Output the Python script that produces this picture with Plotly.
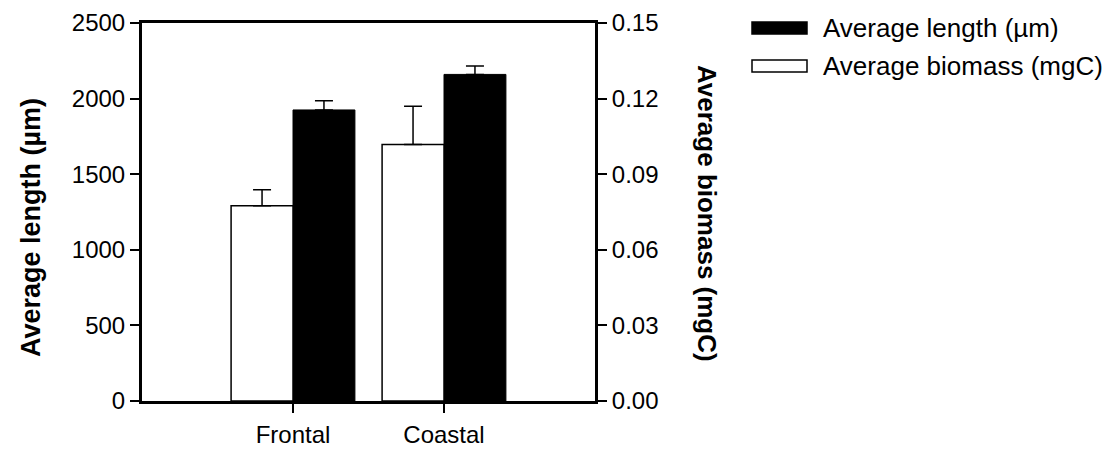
import plotly.graph_objects as go

categories = ["Frontal", "Coastal"]
length_vals = [1925, 2160]
length_err = [60, 55]
biomass_vals = [0.0775, 0.1018]
biomass_err = [0.0063, 0.0152]
left_ticks = [0, 500, 1000, 1500, 2000, 2500]
right_ticks = [0.0, 0.03, 0.06, 0.09, 0.12, 0.15]
right_tick_text = ["0.00", "0.03", "0.06", "0.09", "0.12", "0.15"]

FONT = "Liberation Sans, Arial, sans-serif"
PL, PR, PT, PB = 142, 595, 23, 401  # plot area edges in pixels


def px_x(x):
    return (x - PL) / (PR - PL)


def px_y(y):
    return (PB - y) / (PB - PT)


fig = go.Figure()
fig.add_trace(go.Bar(
    x=categories, y=biomass_vals, yaxis="y2", offsetgroup="1",
    name="Average biomass (mgC)",
    marker=dict(color="white", line=dict(color="black", width=1.5)),
    error_y=dict(type="data", array=biomass_err, arrayminus=[0, 0], symmetric=False,
                 color="black", thickness=1.5, width=9),
    showlegend=False,
))
fig.add_trace(go.Bar(
    x=categories, y=length_vals, yaxis="y", offsetgroup="2",
    name="Average length (µm)",
    marker=dict(color="black", line=dict(color="black", width=1)),
    error_y=dict(type="data", array=length_err, arrayminus=[0, 0], symmetric=False,
                 color="black", thickness=1.5, width=9),
    showlegend=False,
))

fig.update_layout(
    width=1119, height=451,
    margin=dict(l=PL, r=1119 - PR, t=PT, b=451 - PB),
    paper_bgcolor="white", plot_bgcolor="white",
    barmode="group", bargap=0.18, bargroupgap=0,
    font=dict(family=FONT, size=24, color="black"),
    xaxis=dict(
        range=[-1, 2], showline=True, linecolor="black", linewidth=3, mirror=True,
        ticks="outside", ticklen=9, tickwidth=2, tickcolor="black",
        tickfont=dict(size=24), ticklabelstandoff=1, automargin=False,
        showgrid=False, zeroline=False,
    ),
    yaxis=dict(
        range=[0, 2500], tickvals=left_ticks, showline=True, linecolor="black", linewidth=3,
        ticks="outside", ticklen=9, tickwidth=2, tickcolor="black",
        tickfont=dict(size=24), showgrid=False, zeroline=False, automargin=False,
    ),
    yaxis2=dict(
        range=[0, 0.15], tickvals=right_ticks, ticktext=right_tick_text,
        overlaying="y", side="right", anchor="x", automargin=False,
        showline=True, linecolor="black", linewidth=3,
        ticks="outside", ticklen=9, tickwidth=2, tickcolor="black",
        tickfont=dict(size=24), showgrid=False, zeroline=False,
    ),
)

fig.add_annotation(
    text="<b>Average length (µm)</b>", textangle=-90,
    xref="paper", yref="paper", x=px_x(31), y=px_y(228),
    xanchor="center", yanchor="middle", showarrow=False, font=dict(size=27),
)
fig.add_annotation(
    text="<b>Average biomass (mgC)</b>", textangle=90,
    xref="paper", yref="paper", x=px_x(707), y=px_y(213),
    xanchor="center", yanchor="middle", showarrow=False, font=dict(size=26),
)

# legend drawn manually
leg = [("black", "Average length (µm)", 28), ("white", "Average biomass (mgC)", 66)]
for color, label, yc in leg:
    fig.add_shape(type="rect", xref="paper", yref="paper",
                  x0=px_x(752), x1=px_x(807),
                  y0=px_y(yc + 6), y1=px_y(yc - 6),
                  fillcolor=color, line=dict(color="black", width=1.5))
    fig.add_annotation(text=label, xref="paper", yref="paper",
                       x=px_x(821), y=px_y(yc),
                       xanchor="left", yanchor="middle", showarrow=False,
                       font=dict(size=26))

fig.write_html("out.html")
